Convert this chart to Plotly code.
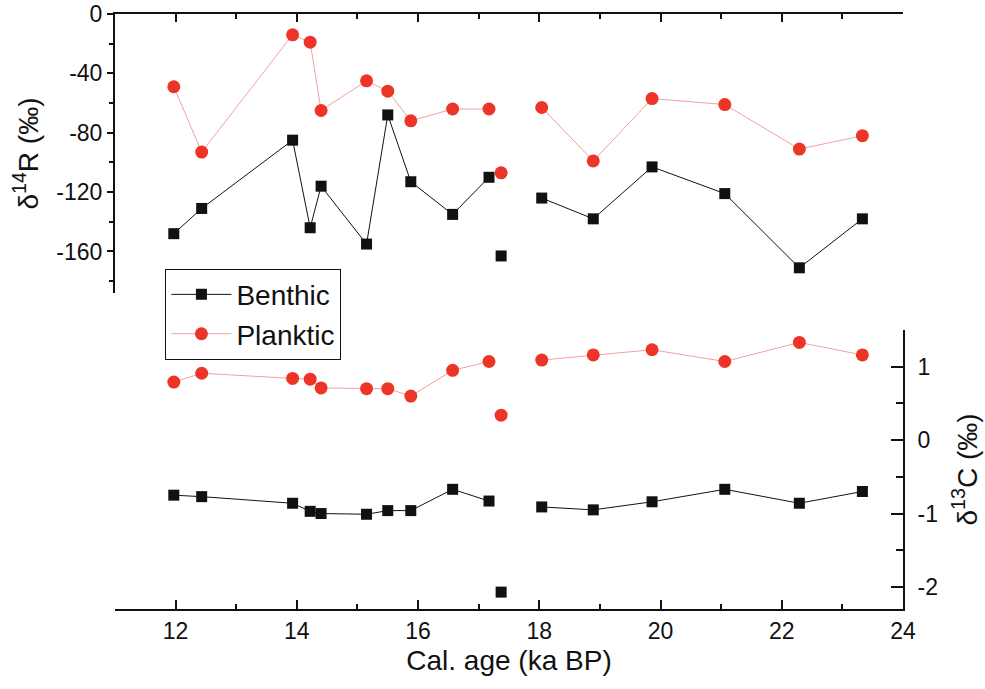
import plotly.graph_objects as go

# ---- data ----
age = [11.97, 12.43, 13.93, 14.22, 14.40, 15.15, 15.50, 15.88, 16.57, 17.17,
       17.37, 18.04, 18.89, 19.86, 21.06, 22.29, 23.33]

d14r_benthic = [-148, -131, -85, -144, -116, -155, -68, -113, -135, -110,
                -163, -124, -138, -103, -121, -171, -138]
d14r_planktic = [-49, -93, -14, -19, -65, -45, -52, -72, -64, -64,
                 -107, -63, -99, -57, -61, -91, -82]

d13c_benthic = [-0.75, -0.77, -0.86, -0.97, -1.00, -1.01, -0.96, -0.96, -0.67, -0.83,
                -2.07, -0.91, -0.95, -0.84, -0.67, -0.86, -0.70]
d13c_planktic = [0.79, 0.91, 0.84, 0.83, 0.71, 0.70, 0.70, 0.60, 0.95, 1.07,
                 0.34, 1.09, 1.16, 1.23, 1.07, 1.33, 1.16]

# sample not joined to its neighbours by the line
isolated = [False] * 10 + [True] + [False] * 6

x_ticks = [12, 14, 16, 18, 20, 22, 24]
d14r_ticks = [0, -40, -80, -120, -160]
d13c_ticks = [1, 0, -1, -2]

FONT = "Liberation Sans, Arial, sans-serif"
BLACK = "#111111"
RED = "#ec3527"
PINK = "#f2a0a0"


def split(vals):
    joined = [None if iso else v for v, iso in zip(vals, isolated)]
    xs = [a for a, iso in zip(age, isolated) if iso]
    ys = [v for v, iso in zip(vals, isolated) if iso]
    return joined, xs, ys


fig = go.Figure()

series = [
    ("Benthic", d14r_benthic, d13c_benthic, "square", 11, BLACK, BLACK),
    ("Planktic", d14r_planktic, d13c_planktic, "circle", 13, RED, PINK),
]

for name, top_vals, bot_vals, sym, size, mcol, lcol in series:
    for vals, xa, ya, legend in [(top_vals, "x2", "y2", True), (bot_vals, "x", "y", False)]:
        joined, xs, ys = split(vals)
        fig.add_trace(go.Scatter(
            x=age, y=joined, mode="lines+markers", name=name,
            xaxis=xa, yaxis=ya, showlegend=legend, connectgaps=False,
            line=dict(color=lcol, width=1),
            marker=dict(symbol=sym, size=size, color=mcol, line=dict(width=0)),
        ))
        fig.add_trace(go.Scatter(
            x=xs, y=ys, mode="markers", name=name,
            xaxis=xa, yaxis=ya, showlegend=False,
            marker=dict(symbol=sym, size=size, color=mcol, line=dict(width=0)),
        ))

axis_common = dict(showgrid=False, zeroline=False, showline=True, automargin=False,
                   linecolor=BLACK, linewidth=2, tickcolor=BLACK, tickwidth=2,
                   tickfont=dict(size=23, color=BLACK, family=FONT))

title_font = dict(size=28, family=FONT, color=BLACK)

fig.update_layout(
    width=985, height=689,
    margin=dict(l=115, r=82, t=14, b=80),
    paper_bgcolor="white", plot_bgcolor="white",
    font=dict(family=FONT, color=BLACK),
    xaxis=dict(domain=[0, 1], anchor="y", side="bottom", range=[11, 24],
               tickvals=x_ticks, ticks="inside", ticklen=9,
               minor=dict(ticks="inside", ticklen=5, dtick=1, tickcolor=BLACK, tickwidth=2),
               title=dict(text="Cal. age (ka BP)", font=title_font, standoff=8),
               **axis_common),
    yaxis=dict(domain=[0, 0.469], anchor="x", side="right", range=[-2.3, 1.5],
               tickvals=d13c_ticks, ticktext=[f"{v:d}" for v in d13c_ticks],
               ticks="inside", ticklen=12, ticklabelstandoff=8,
               minor=dict(ticks="inside", ticklen=7, dtick=0.5, tickcolor=BLACK, tickwidth=2),
               title=dict(text="δ<sup>13</sup>C (‰)", font=title_font, standoff=20),
               **axis_common),
    xaxis2=dict(domain=[0, 1], anchor="y2", side="top", range=[11, 24],
                tickvals=x_ticks, ticks="inside", ticklen=8, showticklabels=False,
                minor=dict(ticks="inside", ticklen=5, dtick=1, tickcolor=BLACK, tickwidth=2),
                **axis_common),
    yaxis2=dict(domain=[0.531, 1], anchor="x2", side="left", range=[-188, 0],
                tickvals=d14r_ticks, ticktext=[f"{v:d}" for v in d14r_ticks],
                ticks="outside", ticklen=6,
                minor=dict(ticks="outside", ticklen=4, dtick=20, tickcolor=BLACK, tickwidth=2),
                title=dict(text="δ<sup>14</sup>R (‰)", font=title_font, standoff=10),
                **axis_common),
    legend=dict(x=0.064, y=0.572, xanchor="left", yanchor="top",
                bordercolor=BLACK, borderwidth=1, bgcolor="white",
                font=dict(size=28, family=FONT, color=BLACK),
                tracegroupgap=0, itemwidth=60),
)

fig.write_html("out.html", config={"displayModeBar": False},
               post_script="document.body.style.margin='0';document.body.style.padding='0';")
